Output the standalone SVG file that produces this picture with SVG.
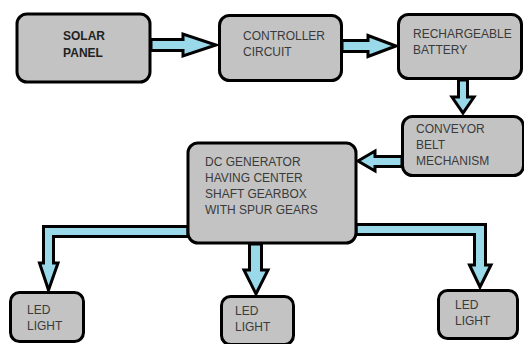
<svg xmlns="http://www.w3.org/2000/svg" width="524" height="344" viewBox="0 0 524 344">
<style>
.box{fill:#c3c3c3;stroke:#000;stroke-width:3}
.arrow{fill:#99d9ea;stroke:#000;stroke-width:3;stroke-linejoin:miter}
text{font-family:"Liberation Sans",Arial,sans-serif;font-size:12px;fill:#3a3a3a}
.bold{font-weight:bold;fill:#222}
</style>
<rect width="524" height="344" fill="#fff"/>
<g id="connectors">
<polygon class="arrow" points="151,39.5 183,39.5 183,34 216,45 183,56 183,50.5 151,50.5"/>
<polygon class="arrow" points="342,40.5 368,40.5 368,35.5 396,46 368,56.5 368,51.5 342,51.5"/>
<polygon class="arrow" points="458.5,80 467.5,80 467.5,97 474,97 463,113 452,97 458.5,97"/>
<polygon class="arrow" points="402,156.5 375,156.5 375,151 358,161 375,171 375,166.5 402,166.5"/>
<polygon class="arrow" points="188,226.5 43.5,226.5 43.5,263 39.5,263 48.5,290 58,263 53.5,263 53.5,236.5 188,236.5"/>
<polygon class="arrow" points="249.5,244 249.5,270 244,270 256,294 268,270 261.5,270 261.5,244"/>
<polygon class="arrow" points="356,224.5 485.5,224.5 485.5,265 491,265 480,287 469.5,265 474.5,265 474.5,234.5 356,234.5"/>
</g>
<g id="solar">
<rect class="box" x="17" y="14" width="133" height="68" rx="10"/>
<text class="bold" x="84" y="40" text-anchor="middle">SOLAR</text>
<text class="bold" x="83" y="57" text-anchor="middle">PANEL</text>
</g>
<g id="controller">
<rect class="box" x="219.5" y="15.5" width="122" height="65" rx="10"/>
<text x="243" y="39.5">CONTROLLER</text>
<text x="243" y="56">CIRCUIT</text>
</g>
<g id="battery">
<rect class="box" x="398.5" y="14.5" width="123" height="64" rx="10"/>
<text x="413" y="38">RECHARGEABLE</text>
<text x="413" y="54">BATTERY</text>
</g>
<g id="conveyor">
<rect class="box" x="402.5" y="116.5" width="121" height="59" rx="10"/>
<text x="416" y="132.5">CONVEYOR</text>
<text x="416" y="148.5">BELT</text>
<text x="416" y="165">MECHANISM</text>
</g>
<g id="generator">
<rect class="box" x="188" y="143" width="168" height="100" rx="10"/>
<text x="205" y="165.5">DC GENERATOR</text>
<text x="205" y="181.5">HAVING CENTER</text>
<text x="205" y="197.5">SHAFT GEARBOX</text>
<text x="205" y="213.5">WITH SPUR GEARS</text>
</g>
<g id="led1">
<rect class="box" x="10.5" y="292.5" width="73" height="49" rx="9"/>
<text x="27" y="313.5">LED</text>
<text x="27" y="329.5">LIGHT</text>
</g>
<g id="led2">
<rect class="box" x="221.5" y="296.5" width="72" height="48" rx="9"/>
<text x="235" y="314.5">LED</text>
<text x="235" y="330.5">LIGHT</text>
</g>
<g id="led3">
<rect class="box" x="438.5" y="290.5" width="79" height="48" rx="9"/>
<text x="455" y="308.5">LED</text>
<text x="455" y="324.5">LIGHT</text>
</g>
</svg>
